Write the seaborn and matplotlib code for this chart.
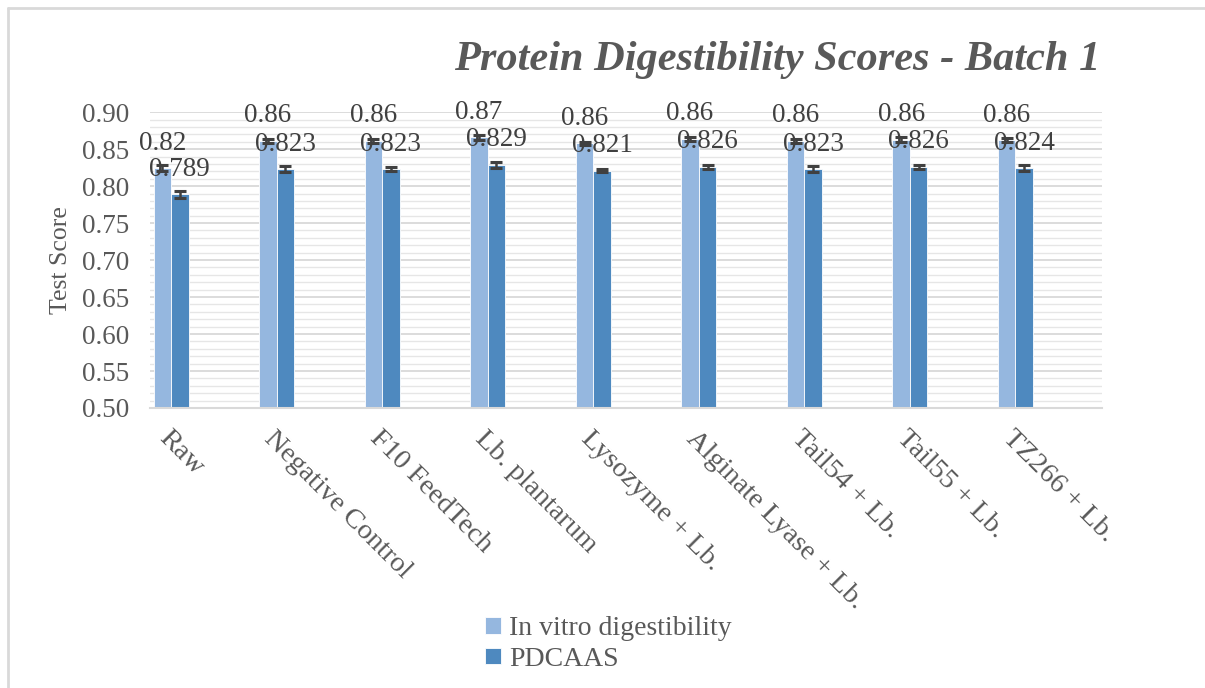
import matplotlib
matplotlib.use('agg')
import matplotlib.pyplot as plt
from matplotlib.lines import Line2D
from matplotlib.ticker import MultipleLocator, FormatStrFormatter
import numpy as np
import pandas as pd
import seaborn as sns

treatments = ['Raw', 'Negative Control', 'F10 FeedTech', 'Lb. plantarum',
              'Lysozyme + Lb.', 'Alginate Lyase + Lb.', 'Tail54 + Lb.',
              'Tail55 + Lb.', 'TZ266 + Lb.']
in_vitro = [0.824, 0.861, 0.861, 0.866, 0.858, 0.864, 0.861, 0.863, 0.862]
in_vitro_err = [0.004, 0.003, 0.003, 0.003, 0.002, 0.003, 0.003, 0.003, 0.003]
pdcaas = [0.789, 0.823, 0.823, 0.829, 0.821, 0.826, 0.823, 0.826, 0.824]
pdcaas_err = [0.005, 0.004, 0.003, 0.004, 0.002, 0.003, 0.004, 0.003, 0.004]
series = ['In vitro digestibility', 'PDCAAS']

df = pd.DataFrame({
    'Treatment': treatments * 2,
    'Score': in_vitro + pdcaas,
    'Measure': [series[0]] * len(treatments) + [series[1]] * len(treatments),
})

sns.set_style('white')
plt.rcParams['font.family'] = ['Liberation Serif', 'DejaVu Serif']
grey = '#595959'

fig = plt.figure(figsize=(12.05, 6.88), dpi=100)
ax = fig.add_axes([0.1245, 0.407, 0.79, 0.430])

sns.barplot(data=df, x='Treatment', y='Score', hue='Measure',
            palette=['#95B7DF', '#4E89BF'], width=0.33, errorbar=None,
            saturation=1, edgecolor='white', linewidth=0.6, ax=ax)

# error bars and value labels
errs = [in_vitro_err, pdcaas_err]
fmts = ['{:.2f}', '{:.3f}']
for cont, err, fmt in zip(ax.containers, errs, fmts):
    xs = [b.get_x() + b.get_width() / 2 for b in cont]
    ys = [b.get_height() for b in cont]
    ax.errorbar(xs, ys, yerr=err, fmt='none', ecolor='#404040',
                elinewidth=1.8, capsize=4.5, capthick=2.2, zorder=5)
    ax.bar_label(cont, labels=[fmt.format(v) for v in ys], padding=9,
                 fontsize=19.5, color='#404040', zorder=6)

ax.set_ylim(0.5, 0.9)
ax.set_xlim(-0.2, 8.82)
ax.yaxis.set_major_locator(MultipleLocator(0.05))
ax.yaxis.set_minor_locator(MultipleLocator(0.01))
ax.yaxis.set_major_formatter(FormatStrFormatter('%.2f'))
ax.grid(which='major', axis='y', color='#D9D9D9', linewidth=1.3)
ax.grid(which='minor', axis='y', color='#E6E6E6', linewidth=1.0)
ax.set_axisbelow(True)
for s in ['top', 'right', 'left']:
    ax.spines[s].set_visible(False)
ax.spines['bottom'].set_color('#D9D9D9')
ax.spines['bottom'].set_linewidth(1.5)
ax.tick_params(axis='y', which='both', length=0, pad=15, labelsize=19.5,
               labelcolor=grey)
ax.tick_params(axis='x', length=0, pad=13, labelsize=20.5, labelcolor=grey)
plt.setp(ax.get_xticklabels(), rotation=-45, ha='left', va='top',
         rotation_mode='anchor')
ax.set_xlabel('')
ax.set_ylabel('Test Score', fontsize=18.5, color=grey, labelpad=7)

handles, labels = ax.get_legend_handles_labels()
ax.get_legend().remove()
fig.legend(handles, labels, loc='center', bbox_to_anchor=(0.505, 0.064),
           frameon=False, fontsize=20, handlelength=0.55, handleheight=0.55,
           handletextpad=0.3, labelspacing=0.2, labelcolor=grey)

fig.text(0.913, 1 - 60 / 688, 'Protein Digestibility Scores - Batch 1',
         ha='right', va='center', fontsize=30.5, fontweight='bold',
         fontstyle='italic', color=grey)

# chart-area border (left and top edges are the visible ones)
fig.lines.append(Line2D([0.0066, 0.0066], [0, 0.9884], transform=fig.transFigure,
                        color='#D9D9D9', linewidth=2))
fig.lines.append(Line2D([0.0066, 1], [0.9884, 0.9884], transform=fig.transFigure,
                        color='#D9D9D9', linewidth=2))

fig.savefig('out.png', dpi=100)
